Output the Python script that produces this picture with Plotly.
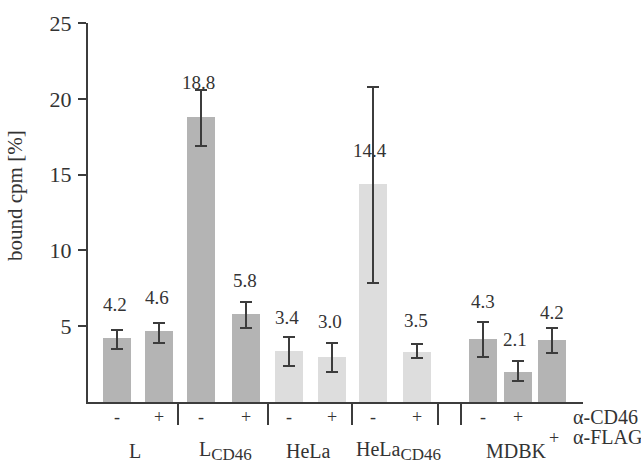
import plotly.graph_objects as go

# ---- data ----
conditions = ["L -", "L +", "LCD46 -", "LCD46 +", "HeLa -", "HeLa +",
              "HeLaCD46 -", "HeLaCD46 +", "MDBK -", "MDBK +", "MDBK FLAG"]
values = [4.2, 4.6, 18.8, 5.8, 3.4, 3.0, 14.4, 3.5, 4.3, 2.1, 4.2]
bar_tops = [4.2, 4.7, 18.8, 5.8, 3.35, 3.0, 14.4, 3.3, 4.15, 2.0, 4.1]
err_hi = [4.75, 5.2, 20.6, 6.6, 4.3, 3.9, 20.8, 3.8, 5.3, 2.7, 4.9]
err_lo = [3.5, 3.9, 16.9, 4.9, 2.4, 2.0, 7.85, 2.9, 3.0, 1.4, 3.2]
value_labels = ["4.2", "4.6", "18.8", "5.8", "3.4", "3.0", "14.4", "3.5", "4.3", "2.1", "4.2"]
signs_cd46 = ["-", "+", "-", "+", "-", "+", "-", "+", "-", "+", ""]
signs_flag = ["", "", "", "", "", "", "", "", "", "", "+"]
cell_lines = ["L", "L<sub><span style='font-size:17px'>CD46</span></sub>", "HeLa",
              "HeLa<sub><span style='font-size:17px'>CD46</span></sub>", "MDBK"]
shade = ["dark", "dark", "dark", "dark", "light", "light", "light", "light", "dark", "dark", "dark"]
y_title = "bound cpm [%]"

# ---- layout helpers (positions/styles) ----
xpos = [117, 159, 201, 246, 289, 332, 373, 417, 483, 518, 552]
label_y = [6.4, 6.9, 21.1, 8.0, 5.6, 5.3, 16.6, 5.4, 6.6, 4.1, 5.9]
label_dx = [-2, -2, -3, -1, -2, -2, -3, -1, 0, -3, 0]
group_x = [135, 225, 308, 398, 516]
sep_x = [178, 268, 352, 438, 461]
colors = {"dark": "#b4b4b4", "light": "#dddddd"}
ink = "#3c3c3c"
txt = "#333333"
font = "Liberation Serif"

fig = go.Figure()
fig.add_trace(go.Bar(
    x=xpos, y=bar_tops, width=28,
    marker=dict(color=[colors[s] for s in shade], line=dict(width=0)),
    error_y=dict(type="data", symmetric=False,
                 array=[h - t for h, t in zip(err_hi, bar_tops)],
                 arrayminus=[t - l for t, l in zip(bar_tops, err_lo)],
                 color=ink, thickness=2, width=6),
    hovertext=conditions, showlegend=False,
))

ann = []
for x, y, dx, t in zip(xpos, label_y, label_dx, value_labels):
    ann.append(dict(x=x + dx, y=y, text=t, showarrow=False, xref="x", yref="y",
                    font=dict(size=19, color=txt, family=font)))
for x, s in zip(xpos, signs_cd46):
    if s:
        ann.append(dict(x=x, y=0, yshift=-15, text=s, showarrow=False, xref="x", yref="paper",
                        yanchor="middle", font=dict(size=18, color=txt, family=font)))
for x, s in zip(xpos, signs_flag):
    if s:
        ann.append(dict(x=x + 2, y=0, yshift=-36, text=s, showarrow=False, xref="x", yref="paper",
                        yanchor="middle", font=dict(size=18, color=txt, family=font)))
ann.append(dict(x=571, y=0, yshift=-15, text="α-CD46", showarrow=False, xref="x", yref="paper",
                xanchor="left", yanchor="middle", font=dict(size=20, color=txt, family=font)))
ann.append(dict(x=571, y=0, yshift=-35, text="α-FLAG", showarrow=False, xref="x", yref="paper",
                xanchor="left", yanchor="middle", font=dict(size=20, color=txt, family=font)))
for x, t in zip(group_x, cell_lines):
    ann.append(dict(x=x, y=0, yshift=-49, text=t, showarrow=False, xref="x", yref="paper",
                    yanchor="middle", font=dict(size=20, color=txt, family=font)))
ann.append(dict(x=0, xshift=-73, y=(402 - 196) / 379, text=y_title, textangle=-90,
                showarrow=False, xref="paper", yref="paper", xanchor="center", yanchor="middle",
                font=dict(size=21, color=txt, family=font)))

shapes = []
for sx in sep_x:
    shapes.append(dict(type="line", xref="x", yref="paper", x0=sx, x1=sx, y0=0, y1=-23 / 379,
                       line=dict(color=ink, width=2)))

fig.update_layout(
    width=641, height=465,
    margin=dict(l=88, r=58, t=23, b=63),
    paper_bgcolor="white", plot_bgcolor="white",
    font=dict(family=font, color=txt),
    annotations=ann, shapes=shapes,
    xaxis=dict(range=[88, 583], showgrid=False, zeroline=False, showticklabels=False,
               ticks="", showline=True, linecolor=ink, linewidth=2, fixedrange=True),
    yaxis=dict(range=[0, 25], tickvals=[5, 10, 15, 20, 25], showgrid=False, zeroline=False,
               ticks="outside", ticklen=8, tickwidth=2, tickcolor=ink,
               showline=True, linecolor=ink, linewidth=2,
               tickfont=dict(size=22, color=txt, family=font), ticklabelstandoff=2),
    bargap=0,
)

fig.write_html("out.html")
